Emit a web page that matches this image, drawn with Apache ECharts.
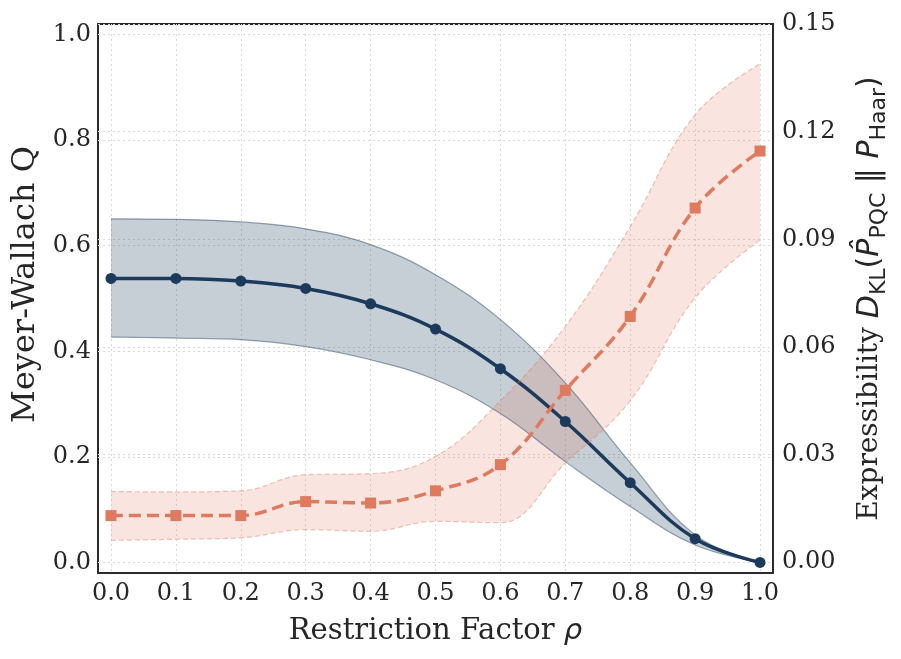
<!DOCTYPE html>
<html>
<head>
<meta charset="utf-8">
<script src="https://cdn.jsdelivr.net/npm/echarts@6/dist/echarts.min.js"></script>
<style>
  html, body { margin: 0; padding: 0; background: #fff; }
  #chart { width: 901px; height: 659px; }
</style>
</head>
<body>
<div id="chart"></div>
<script>
// restriction factor rho
const rho = [0.0, 0.1, 0.2, 0.3, 0.4, 0.5, 0.6, 0.7, 0.8, 0.9, 1.0]

// Meyer-Wallach Q (left axis), mean and band
const mwMean = [0.538, 0.538, 0.533, 0.519, 0.490, 0.442, 0.367, 0.267, 0.151, 0.045, 0.0]
const mwUpper = [0.651, 0.650, 0.645, 0.632, 0.602, 0.545, 0.460, 0.340, 0.189, 0.052, 0.0]
const mwLower = [0.427, 0.425, 0.422, 0.409, 0.384, 0.346, 0.282, 0.191, 0.106, 0.033, 0.0]

// expressibility D_KL (right axis), mean and band
const klMean = [0.0130, 0.0130, 0.0130, 0.0169, 0.0165, 0.0199, 0.0272, 0.0479, 0.0685, 0.0987, 0.1146]
const klUpper = [0.0197, 0.0196, 0.0199, 0.0244, 0.0247, 0.0295, 0.0450, 0.0657, 0.0935, 0.1247, 0.1389]
const klLower = [0.0061, 0.0064, 0.0068, 0.0091, 0.0086, 0.0114, 0.0110, 0.0276, 0.0450, 0.0737, 0.0898]

// tick labels
const xTicks = [0.0, 0.1, 0.2, 0.3, 0.4, 0.5, 0.6, 0.7, 0.8, 0.9, 1.0]
const leftTicks = [0.0, 0.2, 0.4, 0.6, 0.8, 1.0]
const rightTicks = [0.00, 0.03, 0.06, 0.09, 0.12, 0.15]

const NAVY = '#1b3a5c'
const ORANGE = '#e07a5f'
const SERIF = 'DejaVu Serif'
const SANS = 'DejaVu Sans'
const TEXT = '#262626'
const GRID_LINE = { show: true, lineStyle: { color: '#d9d9d9', width: 1, type: [2, 3] } }
const SMOOTH = 0.4

// value first, rho second: keeps the stack on the y dimension
const pairs = (ys) => rho.map((x, i) => [ys[i], x])
const diff = (hi, lo) => rho.map((x, i) => [+(hi[i] - lo[i]).toFixed(5), x])
const ENC = { x: 1, y: 0 }

const chart = echarts.init(document.getElementById('chart'))
chart.setOption({
  animation: false,
  grid: {
    left: 98, right: 128, top: 24, bottom: 86,
    outerBoundsMode: 'none',
    containLabel: false,
    show: true, borderColor: '#2b2b2b', borderWidth: 2,
  },
  xAxis: {
    type: 'value',
    min: -0.02, max: 1.02,
    name: '{t|Restriction Factor }{i|ρ}',
    nameLocation: 'middle',
    nameGap: 44,
    nameTextStyle: {
      rich: {
        t: { fontFamily: SERIF, fontSize: 29, color: TEXT },
        i: { fontFamily: SANS, fontStyle: 'italic', fontSize: 29, color: TEXT },
      },
    },
    axisLine: { show: false },
    axisTick: { show: false, customValues: xTicks },
    axisLabel: {
      customValues: xTicks,
      formatter: (v) => v.toFixed(1),
      fontFamily: SERIF, fontSize: 24, color: TEXT, margin: 9,
    },
    splitLine: GRID_LINE,
  },
  yAxis: [
    {
      type: 'value',
      min: -0.02, max: 1.02,
      name: 'Meyer-Wallach Q',
      nameLocation: 'middle',
      nameRotate: 90,
      nameGap: 54,
      nameTextStyle: { fontFamily: SERIF, fontSize: 32, color: TEXT, padding: [0, 0, 0, 28] },
      axisLine: { show: false },
      axisTick: { show: false, customValues: leftTicks },
      axisLabel: {
        customValues: leftTicks,
        formatter: (v) => v.toFixed(1),
        fontFamily: SERIF, fontSize: 24, color: TEXT, margin: 7,
      },
      splitLine: GRID_LINE,
    },
    {
      type: 'value',
      position: 'right',
      min: -0.003, max: 0.15,
      name: '{t|Expressibility }{i|D}{s|KL}{p|(}{i|P̂}{s|PQC}{p| ‖ }{i|P}{s|Haar}{p|)}',
      nameLocation: 'middle',
      nameRotate: 90,
      nameGap: 77,
      nameTextStyle: {
        rich: {
          t: { fontFamily: SERIF, fontSize: 28, color: TEXT, lineHeight: 40 },
          p: { fontFamily: SANS, fontSize: 30, color: TEXT, lineHeight: 40 },
          i: { fontFamily: SANS, fontStyle: 'italic', fontSize: 30, color: TEXT, lineHeight: 40 },
          s: { fontFamily: SANS, fontSize: 22, color: TEXT, lineHeight: 22, verticalAlign: 'bottom' },
        },
      },
      axisLine: { show: false },
      axisTick: { show: false, customValues: rightTicks },
      axisLabel: {
        customValues: rightTicks,
        formatter: (v) => v.toFixed(2),
        fontFamily: SERIF, fontSize: 24, color: TEXT, margin: 9,
      },
      splitLine: GRID_LINE,
    },
  ],
  series: [
    // Meyer-Wallach band
    {
      type: 'line', yAxisIndex: 0, stack: 'mw', smooth: SMOOTH, encode: ENC,
      data: pairs(mwLower), symbol: 'none',
      lineStyle: { color: 'rgba(27,58,92,0.45)', width: 1.2 },
    },
    {
      type: 'line', yAxisIndex: 0, stack: 'mw', smooth: SMOOTH, encode: ENC,
      data: diff(mwUpper, mwLower), symbol: 'none',
      lineStyle: { color: 'rgba(27,58,92,0.45)', width: 1.2 },
      areaStyle: { color: 'rgba(27,58,92,0.25)', opacity: 1 },
    },
    {
      type: 'line', yAxisIndex: 0, smooth: SMOOTH, encode: ENC,
      data: pairs(mwMean),
      symbol: 'circle', symbolSize: 11,
      itemStyle: { color: NAVY },
      lineStyle: { color: NAVY, width: 3.5 },
    },
    // expressibility band
    {
      type: 'line', yAxisIndex: 1, stack: 'kl', smooth: SMOOTH, encode: ENC,
      data: pairs(klLower), symbol: 'none',
      lineStyle: { color: 'rgba(224,122,95,0.45)', width: 1.2, type: [5, 3] },
    },
    {
      type: 'line', yAxisIndex: 1, stack: 'kl', smooth: SMOOTH, encode: ENC,
      data: diff(klUpper, klLower), symbol: 'none',
      lineStyle: { color: 'rgba(224,122,95,0.45)', width: 1.2, type: [5, 3] },
      areaStyle: { color: 'rgba(224,122,95,0.2)', opacity: 1 },
    },
    {
      type: 'line', yAxisIndex: 1, smooth: SMOOTH, encode: ENC,
      data: pairs(klMean),
      symbol: 'rect', symbolSize: 11,
      itemStyle: { color: ORANGE },
      lineStyle: { color: ORANGE, width: 3.5, type: [12, 6] },
    },
  ],
})
</script>
</body>
</html>
